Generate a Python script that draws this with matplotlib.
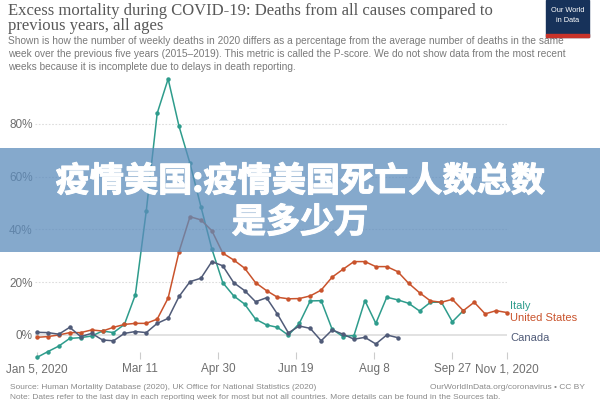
import matplotlib
matplotlib.use('Agg')
import matplotlib.pyplot as plt
import matplotlib.patches as mpatches
import matplotlib.patheffects as pe
import pandas as pd

# weekly excess mortality (P-score, %), weeks ending Jan 5, 2020 onwards
italy = [-8.5, -6.3, -4.2, -1.3, -1.0, -0.4, 1.5, 0.9, 4.0, 15.2,
         47.0, 84.0, 97.0, 79.0, 65.0, 48.6, 32.6, 19.8, 14.8, 11.7,
         6.0, 3.8, 2.9, -0.1, 4.4, 12.9, 13.0, 2.2, -0.6, -0.2,
         13.0, 4.4, 14.3, 13.3, 12.0, 9.1, 12.4, 12.4, 5.0, 9.2]
united_states = [-0.9, -0.6, 0.0, 0.9, 0.9, 1.9, 1.5, 2.9, 4.0, 4.4,
                 4.4, 6.0, 14.0, 31.6, 44.8, 43.6, 39.5, 31.0, 28.4, 25.3,
                 19.8, 16.8, 14.3, 13.7, 13.8, 14.8, 17.0, 21.9, 24.9, 27.8,
                 27.8, 25.9, 25.9, 24.0, 19.6, 16.0, 12.9, 12.4, 13.5, 9.2,
                 12.4, 8.0, 9.2, 8.5]
canada = [1.0, 0.9, 0.3, 2.9, -0.6, 0.6, -1.9, -2.2, 0.6, 1.3,
          0.9, 4.4, 6.3, 14.6, 20.2, 21.5, 27.8, 26.2, 19.8, 16.8,
          12.6, 14.1, 7.9, 0.8, 3.4, 2.5, -2.2, 1.9, 0.3, -1.6,
          -0.9, -3.4, 0.0, -1.0]

first_week = '2020-01-05'
x_ticks = ['2020-01-05', '2020-03-11', '2020-04-30', '2020-06-19',
           '2020-08-08', '2020-09-27', '2020-11-01']
x_tick_labels = ['Jan 5, 2020', 'Mar 11', 'Apr 30', 'Jun 19', 'Aug 8', 'Sep 27', 'Nov 1, 2020']
y_ticks = [0, 20, 40, 60, 80]

series = [('Italy', italy, '#2e9c8c', 11.0),
          ('United States', united_states, '#c9532c', 6.6),
          ('Canada', canada, '#505b78', -1.1)]

W, H = 600, 400


def fx(x):
    return x / W


def fy(y):
    return 1 - y / H


fig = plt.figure(figsize=(6, 4), dpi=100)
fig.patch.set_facecolor('white')

# plot area: Jan 4 .. Nov 1 horizontally, -9.1% .. 100% vertically
ax = fig.add_axes([fx(35.4), fy(359), fx(507 - 35.4), (359 - 71) / H])
ax.set_xlim(pd.Timestamp('2020-01-04'), pd.Timestamp('2020-11-01'))
ax.set_ylim(-9.1, 100)
for s in ax.spines.values():
    s.set_visible(False)

for t in y_ticks:
    if t == 0:
        ax.axhline(t, color='#dddddd', lw=1.2, zorder=1)
    else:
        ax.axhline(t, color='#dddddd', lw=0.8, ls=(0, (1.5, 1.5)), zorder=1)

for name, vals, color, label_y in series:
    dates = pd.date_range(first_week, periods=len(vals), freq='7D')
    ax.plot(dates, vals, color=color, lw=1.1, marker='o', ms=2.2,
            clip_on=False, zorder=3)
    ax.text(pd.Timestamp('2020-11-03'), label_y, name, color=color,
            fontsize=8, va='center', ha='left', family='Liberation Sans')

ax.set_yticks(y_ticks)
ax.set_yticklabels([f'{t}%' for t in y_ticks])
ax.set_xticks([pd.Timestamp(d) for d in x_ticks])
ax.set_xticklabels(x_tick_labels)
ax.tick_params(axis='y', length=0, pad=2, labelsize=8.5, labelcolor='#6e6e6e')
ax.tick_params(axis='x', direction='in', length=5, color='#cccccc',
               pad=3, labelsize=8.5, labelcolor='#6e6e6e')
for lab in ax.get_xticklabels() + ax.get_yticklabels():
    lab.set_family('Liberation Sans')

# header
fig.text(fx(8), fy(15), 'Excess mortality during COVID-19: Deaths from all causes compared to',
         family='Liberation Serif', fontsize=12, color='#585858', va='baseline')
fig.text(fx(8), fy(30), 'previous years, all ages',
         family='Liberation Serif', fontsize=12, color='#585858', va='baseline')
subtitle = ['Shown is how the number of weekly deaths in 2020 differs as a percentage from the average number of deaths in the same',
            'week over the previous five years (2015–2019). This metric is called the P-score. We do not show data from the most recent',
            'weeks because it is incomplete due to delays in death reporting.']
for i, line in enumerate(subtitle):
    fig.text(fx(8), fy(44.5 + 12.5 * i), line, family='Liberation Sans',
             fontsize=7.3, color='#7a7a7a', va='baseline')

# logo
fig.add_artist(mpatches.Rectangle((fx(546), fy(37)), fx(43), 37 / H,
                                  transform=fig.transFigure, color='#17325a', zorder=4))
fig.add_artist(mpatches.Rectangle((fx(546), fy(37)), fx(43), 3 / H,
                                  transform=fig.transFigure, color='#c8332a', zorder=5))
fig.text(fx(567.5), fy(11), 'Our World', color='white', fontsize=5.3,
         ha='center', va='center', family='Liberation Sans', zorder=6)
fig.text(fx(567.5), fy(21), 'in Data', color='white', fontsize=5.3,
         ha='center', va='center', family='Liberation Sans', zorder=6)

# footer
fig.text(fx(10), fy(389), 'Source: Human Mortality Database (2020), UK Office for National Statistics (2020)',
         family='Liberation Sans', fontsize=6, color='#8a8a8a', va='baseline')
fig.text(fx(10), fy(399), 'Note: Dates refer to the last day in each reporting week for most but not all countries. More details can be found in the Sources tab.',
         family='Liberation Sans', fontsize=6, color='#8a8a8a', va='baseline')
fig.text(fx(585), fy(389), 'OurWorldInData.org/coronavirus • CC BY',
         family='Liberation Sans', fontsize=6, color='#8a8a8a', va='baseline', ha='right')

# overlay banner
fig.add_artist(mpatches.Rectangle((0, fy(252)), 1, (252 - 148) / H,
                                  transform=fig.transFigure, facecolor='#5c8cbc',
                                  alpha=0.75, edgecolor='none', zorder=8))
cjk = ['Noto Sans CJK SC', 'DejaVu Sans']
for text, yc in [('疫情美国:疫情美国死亡人数总数', 181), ('是多少万', 222)]:
    fig.text(0.5, fy(yc), text, family=cjk, weight='bold', fontsize=24.6,
             color='white', ha='center', va='center', zorder=9,
             path_effects=[pe.withStroke(linewidth=0.8, foreground='white')])

fig.savefig('out.png', dpi=100)
